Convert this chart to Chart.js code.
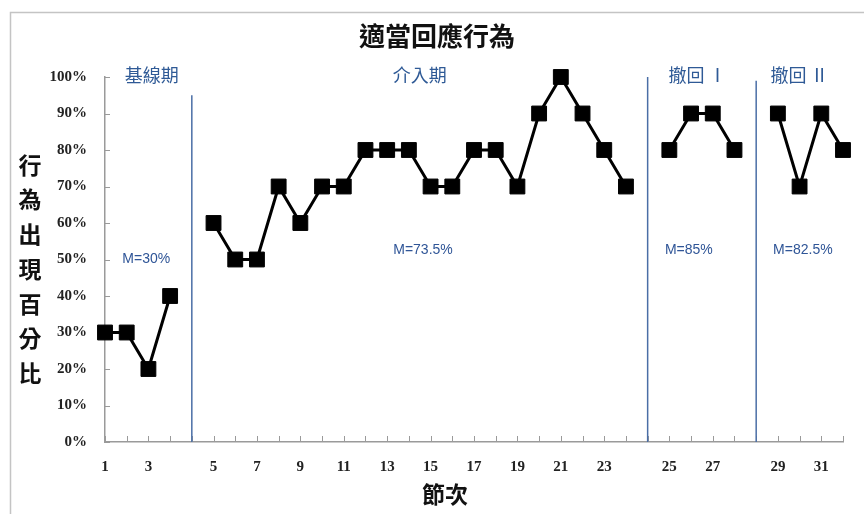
<!DOCTYPE html>
<html>
<head>
<meta charset="utf-8">
<title>適當回應行為</title>
<script src="https://cdn.jsdelivr.net/npm/chart.js@4"></script>
<style>
  html, body { margin: 0; padding: 0; background: #fff; }
  #wrap { width: 864px; height: 514px; }
</style>
</head>
<body>
<div id="wrap"><canvas id="myChart" width="864" height="514"></canvas></div>
<script>
// sessions, with an empty slot where each phase changes
var sessions = ['1','2','3','4','',
  '5','6','7','8','9','10','11','12','13','14','15','16','17','18','19','20','21','22','23','24','',
  '25','26','27','28','',
  '29','30','31','32'];

// percentage of appropriate responses per session (null = phase gap)
var percent = [30, 30, 20, 40, null,
  60, 50, 50, 70, 60, 70, 70, 80, 80, 80, 70, 70, 80, 80, 70, 90, 100, 90, 80, 70, null,
  80, 90, 90, 80, null,
  90, 70, 90, 80];

var yTicks = [0, 10, 20, 30, 40, 50, 60, 70, 80, 90, 100];

// phase names and means
var phaseNames = ['基線期', '介入期', '撤回 Ⅰ', '撤回 Ⅱ'];
var phaseMeans = ['M=30%', 'M=73.5%', 'M=85%', 'M=82.5%'];
var phaseNamePos = [2.15, 14.5, 27.3, 32.0];
var phaseMeanPos = [[1.9, 50], [14.65, 52.6], [26.9, 52.6], [32.15, 52.6]];

// phase change lines (category index, top value)
var phaseLines = [[4, 95], [25, 100], [30, 99]];

var ctx = document.getElementById('myChart').getContext('2d');

var extras = {
  id: 'extras',
  beforeDraw: function(chart) {
    var c = chart.ctx;
    c.save();
    c.fillStyle = '#fff';
    c.fillRect(0, 0, chart.width, chart.height);
    c.strokeStyle = '#c4c4c4';
    c.lineWidth = 1.5;
    c.strokeRect(10.5, 12.5, chart.width, chart.height);
    c.restore();
  },
  beforeDatasetsDraw: function(chart) {
    var c = chart.ctx;
    var x = chart.scales.x, y = chart.scales.y;
    var area = chart.chartArea;
    c.save();

    // small inner tick marks
    c.strokeStyle = '#9a9a9a';
    c.lineWidth = 1;
    for (var i = 0; i < sessions.length; i++) {
      var px = Math.round(x.getPixelForValue(i)) + 0.5;
      c.beginPath();
      c.moveTo(px, area.bottom);
      c.lineTo(px, area.bottom - 6);
      c.stroke();
    }
    yTicks.forEach(function(v) {
      var py = Math.round(y.getPixelForValue(v)) + 0.5;
      c.beginPath();
      c.moveTo(area.left, py);
      c.lineTo(area.left + 5, py);
      c.stroke();
    });

    // phase change lines
    c.strokeStyle = '#4a6ea6';
    c.lineWidth = 1.5;
    phaseLines.forEach(function(p) {
      var px = x.getPixelForValue(p[0]);
      c.beginPath();
      c.moveTo(px, y.getPixelForValue(p[1]));
      c.lineTo(px, area.bottom);
      c.stroke();
    });

    // phase names and means
    c.textAlign = 'center';
    c.textBaseline = 'middle';
    c.fillStyle = '#2f5a96';
    c.font = '18px "Noto Sans CJK TC"';
    phaseNames.forEach(function(t, i) {
      c.fillText(t, x.getPixelForValue(phaseNamePos[i]), y.getPixelForValue(100.5));
    });
    c.fillStyle = '#2f5597';
    c.font = '14px Arial, "Liberation Sans"';
    phaseMeans.forEach(function(t, i) {
      c.fillText(t, x.getPixelForValue(phaseMeanPos[i][0]), y.getPixelForValue(phaseMeanPos[i][1]));
    });

    // titles
    c.fillStyle = '#111';
    c.font = 'bold 26px "Noto Sans CJK TC"';
    c.fillText('適當回應行為', 437, 36);
    c.font = 'bold 23px "Noto Sans CJK TC"';
    c.fillText('節次', 445, 494);
    var yTitle = '行為出現百分比';
    c.font = 'bold 23px "Noto Sans CJK TC"';
    for (var k = 0; k < yTitle.length; k++) {
      c.fillText(yTitle[k], 30, 165 + k * 34.7);
    }
    c.restore();
  }
};

var chart = new Chart(ctx, {
  type: 'line',
  data: {
    labels: sessions,
    datasets: [{
      label: '行為出現百分比',
      data: percent,
      borderColor: '#000',
      backgroundColor: '#000',
      borderWidth: 3,
      pointStyle: 'rect',
      pointRadius: 10.5,
      pointBorderWidth: 1,
      pointBackgroundColor: '#000',
      pointBorderColor: '#000',
      spanGaps: false,
      tension: 0,
      fill: false,
      clip: false
    }]
  },
  options: {
    responsive: false,
    animation: false,
    layout: { padding: { left: 40, right: 21, top: 77, bottom: 32 } },
    plugins: {
      legend: { display: false },
      title: { display: false },
      tooltip: { enabled: false }
    },
    scales: {
      x: {
        type: 'category',
        offset: false,
        grid: { display: false, drawTicks: false },
        border: { display: true, color: '#9a9a9a', width: 1.5 },
        afterFit: function(scale) { scale.height = 40; },
        ticks: {
          autoSkip: false,
          maxRotation: 0,
          padding: 16,
          color: '#222',
          font: { family: '"Liberation Serif", "Times New Roman", serif', size: 15, weight: 'bold' },
          callback: function(value) {
            var lab = this.getLabelForValue(value);
            return (lab !== '' && Number(lab) % 2 === 1) ? lab : '';
          }
        }
      },
      y: {
        min: 0,
        max: 100,
        grid: { display: false, drawTicks: false },
        border: { display: true, color: '#9a9a9a', width: 1.5 },
        afterFit: function(scale) { scale.width = 65; },
        afterBuildTicks: function(scale) {
          scale.ticks = yTicks.map(function(v) { return { value: v }; });
        },
        ticks: {
          padding: 18,
          color: '#222',
          font: { family: '"Liberation Serif", "Times New Roman", serif', size: 15, weight: 'bold' },
          callback: function(value) { return value + '%'; }
        }
      }
    }
  },
  plugins: [extras]
});
</script>
</body>
</html>
